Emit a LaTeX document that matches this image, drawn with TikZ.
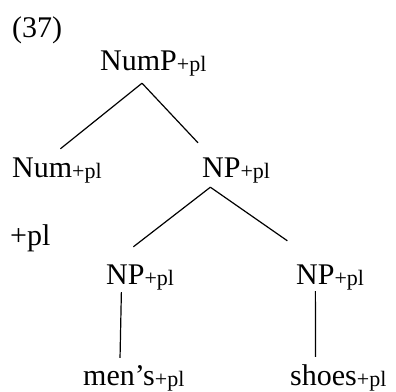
\documentclass[tikz,border=0pt]{standalone}
\usepackage{fontspec}
\setmainfont{Liberation Serif}
\usepackage{tikz}
\usetikzlibrary{positioning}

\newcommand{\plsub}{\rlap{\fontsize{22bp}{22bp}\selectfont\raisebox{-1.5bp}{+pl}}}

\begin{document}
\begin{tikzpicture}[x=1bp,y=-1bp,
  every node/.style={font=\fontsize{30bp}{36bp}\selectfont},
  tn/.style={inner sep=0pt,text height=20bp,text depth=0pt,anchor=base west},
  branch/.style={line width=1.2bp}]
\useasboundingbox (0,0) rectangle (396,392);
\node[tn] (ex) at (12,37) {(37)};
\node[tn] (nump) at (100,70) {NumP\plsub};
\node[tn] (num) at (12,177) {Num\plsub};
\node[tn] (np) at (202,177) {NP\plsub};
\node[tn] (feat) at (10,245) {+pl};
\node[tn] (npl) at (106,284) {NP\plsub};
\node[tn] (npr) at (296,284) {NP\plsub};
\node[tn] (mens) at (83,385) {men’s\plsub};
\node[tn] (shoes) at (290,385) {shoes\plsub};
\draw[branch] ([shift={(3.5,13)}]nump.south) -- ([shift={(-12,-8)}]num.north east);
\draw[branch] ([shift={(3.5,13)}]nump.south) -- ([shift={(-4,-14)}]np.north west);
\draw[branch] ([shift={(-11,10)}]np.south) -- ([shift={(8,-17)}]npl.north);
\draw[branch] ([shift={(-11,10)}]np.south) -- ([shift={(-28,-23)}]npr.north);
\draw[branch] ([shift={(-4,8)}]npl.south) -- ([shift={(1,-7)}]mens.north);
\draw[branch] ([shift={(0,7)}]npr.south) -- ([shift={(-8,-8)}]shoes.north);
\end{tikzpicture}
\end{document}
